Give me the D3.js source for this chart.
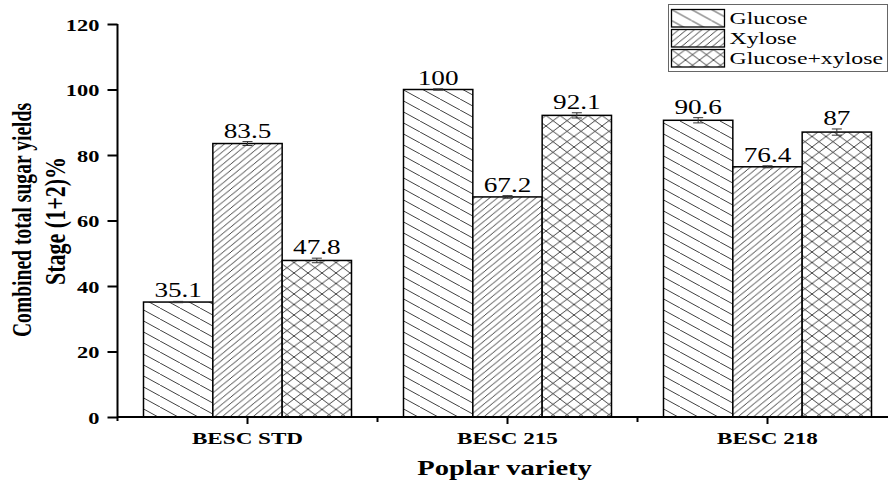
<!DOCTYPE html>
<html>
<head>
<meta charset="utf-8">
<script src="https://cdn.jsdelivr.net/npm/d3@7"></script>
<style>
  html, body { margin: 0; padding: 0; background: #fff; }
  svg { display: block; font-family: "Liberation Serif", "Times New Roman", serif; }
</style>
</head>
<body>
<svg id="chart" width="888" height="484"></svg>
<script>
// Poplar varieties on the x axis
const categories = ["BESC STD", "BESC 215", "BESC 218"];
// Sugar series shown in each group
const seriesNames = ["Glucose", "Xylose", "Glucose+xylose"];
// Combined total sugar yields, Stage (1+2) %
const glucose  = [35.1, 100, 90.6];
const xylose   = [83.5, 67.2, 76.4];
const combined = [47.8, 92.1, 87];
// Standard deviations
const glucoseErr  = [0.2, 0.2, 0.8];
const xyloseErr   = [0.6, 0.4, 0.3];
const combinedErr = [0.7, 0.8, 0.95];
// Y-axis tick values
const yTicks = [0, 20, 40, 60, 80, 100, 120];

const seriesValues = [glucose, xylose, combined];
const seriesErrors = [glucoseErr, xyloseErr, combinedErr];
const patternIds = ["pat-glucose", "pat-xylose", "pat-combined"];

// Horizontal widening applied to all lettering
const SX = 1.36;

const svg = d3.select("#chart");
const plot = { left: 117.5, right: 897.5, top: 24, bottom: 417 };

// ---- hatch patterns ----
const defs = svg.append("defs");
function hatch(id, w, h, lines) {
  const p = defs.append("pattern")
    .attr("id", id).attr("patternUnits", "userSpaceOnUse")
    .attr("width", w).attr("height", h);
  p.append("rect").attr("width", w).attr("height", h).attr("fill", "#fff");
  lines.forEach(([x1, y1, x2, y2]) => {
    p.append("line")
      .attr("x1", x1).attr("y1", y1).attr("x2", x2).attr("y2", y2)
      .attr("stroke", "#2a2a2a").attr("stroke-width", 0.9);
  });
}
// "\" lines
{
  const w = 20, h = 11, k = h / w;
  hatch("pat-glucose", w, h, [[-2, -2 * k, w + 2, h + 2 * k]]);
}
// "/" lines
{
  const w = 7.7, h = 6.3, k = h / w;
  hatch("pat-xylose", w, h, [[-2, h + 2 * k, w + 2, -2 * k]]);
}
// cross hatch
{
  const w = 14, h = 10.5, k = h / w;
  hatch("pat-combined", w, h, [
    [-2, -2 * k, w + 2, h + 2 * k],
    [-2, h + 2 * k, w + 2, -2 * k]
  ]);
}

// ---- scales ----
const x = d3.scaleBand()
  .domain(categories)
  .range([plot.left, plot.right])
  .paddingInner(0.2)
  .paddingOuter(0.1);
const xSub = d3.scaleBand()
  .domain(seriesNames)
  .range([0, x.bandwidth()]);
const y = d3.scaleLinear()
  .domain([0, 120])
  .range([plot.bottom, plot.top]);

// ---- bars ----
const rows = [];
categories.forEach((c, ci) => {
  seriesNames.forEach((s, si) => {
    rows.push({ cat: c, series: s, si, value: seriesValues[si][ci], err: seriesErrors[si][ci] });
  });
});

const barG = svg.append("g");
barG.selectAll("rect")
  .data(rows)
  .join("rect")
  .attr("x", d => x(d.cat) + xSub(d.series))
  .attr("y", d => y(d.value))
  .attr("width", xSub.bandwidth())
  .attr("height", d => y(0) - y(d.value))
  .attr("fill", d => `url(#${patternIds[d.si]})`)
  .attr("stroke", "#000")
  .attr("stroke-width", 1.5);

// error bars
const errG = svg.append("g").attr("stroke", "#333").attr("stroke-width", 1);
rows.forEach(d => {
  const cx = x(d.cat) + xSub(d.series) + xSub.bandwidth() / 2;
  const y1 = y(d.value + d.err), y2 = y(d.value - d.err);
  errG.append("line").attr("x1", cx).attr("x2", cx).attr("y1", y1).attr("y2", y2);
  errG.append("line").attr("x1", cx - 5).attr("x2", cx + 5).attr("y1", y1).attr("y2", y1);
  errG.append("line").attr("x1", cx - 5).attr("x2", cx + 5).attr("y1", y2).attr("y2", y2);
});

// value labels
svg.append("g").selectAll("text")
  .data(rows)
  .join("text")
  .attr("transform", d => {
    const cx = x(d.cat) + xSub(d.series) + xSub.bandwidth() / 2;
    return `translate(${cx},${y(d.value + d.err) - 4}) scale(${SX},1)`;
  })
  .attr("text-anchor", "middle")
  .attr("font-size", 20)
  .attr("fill", "#000")
  .text(d => d3.format("~g")(d.value));

// ---- axes ----
const yAxis = svg.append("g")
  .attr("transform", `translate(${plot.left},0)`)
  .call(d3.axisLeft(y).tickValues(yTicks).tickSize(10).tickSizeOuter(0).tickFormat(d3.format("d")));
yAxis.select(".domain").attr("stroke", "#000").attr("stroke-width", 2)
  .attr("d", `M0,${plot.top}V${plot.bottom + 4}`);
yAxis.selectAll(".tick line").attr("stroke", "#000").attr("stroke-width", 2);
yAxis.selectAll(".tick text")
  .attr("x", null).attr("dy", null).attr("y", 6)
  .attr("transform", `translate(-18,0) scale(${SX},1)`)
  .attr("font-family", "Liberation Serif, serif")
  .attr("font-size", 16.5).attr("font-weight", "bold").attr("fill", "#000");

const xAxis = svg.append("g")
  .attr("transform", `translate(0,${plot.bottom})`)
  .call(d3.axisBottom(x).tickSize(7).tickSizeOuter(0));
xAxis.select(".domain").attr("stroke", "#000").attr("stroke-width", 2)
  .attr("d", `M${plot.left},0H${plot.right}`);
xAxis.selectAll(".tick line").attr("stroke", "#000").attr("stroke-width", 2);
xAxis.selectAll(".tick text")
  .attr("y", null).attr("dy", null)
  .attr("transform", `translate(0,27) scale(${SX},1)`)
  .attr("font-family", "Liberation Serif, serif")
  .attr("font-size", 17).attr("font-weight", "bold").attr("fill", "#000");

// minor ticks between the groups
const minorPos = categories.slice(1).map(c => x(c) - (x.step() - x.bandwidth()) / 2);
xAxis.selectAll(".minor")
  .data(minorPos)
  .join("line")
  .attr("class", "minor")
  .attr("x1", d => d).attr("x2", d => d)
  .attr("y1", 0).attr("y2", 5)
  .attr("stroke", "#000").attr("stroke-width", 2);

// ---- axis titles ----
svg.append("text")
  .attr("transform", `translate(${(plot.left + plot.right) / 2 - 3},475) scale(${SX},1)`)
  .attr("text-anchor", "middle")
  .attr("font-size", 21).attr("font-weight", "bold").attr("fill", "#000")
  .text("Poplar variety");

svg.append("text")
  .attr("transform", `translate(31,220) scale(${SX},1) rotate(-90)`)
  .attr("text-anchor", "middle")
  .attr("font-size", 19.6).attr("font-weight", "bold").attr("fill", "#000")
  .text("Combined total sugar yields");
svg.append("text")
  .attr("transform", `translate(65,221) scale(${SX},1) rotate(-90)`)
  .attr("text-anchor", "middle")
  .attr("font-size", 22).attr("font-weight", "bold").attr("fill", "#000")
  .text("Stage (1+2)%");

// ---- legend ----
const legend = svg.append("g");
legend.append("rect")
  .attr("x", 668.5).attr("y", 4.5).attr("width", 219).attr("height", 67)
  .attr("fill", "#fff").attr("stroke", "#666").attr("stroke-width", 1);
const li = legend.selectAll("g.item")
  .data(seriesNames)
  .join("g")
  .attr("class", "item")
  .attr("transform", (d, i) => `translate(671.5,${9.5 + i * 20})`);
li.append("rect")
  .attr("width", 53).attr("height", 17.5)
  .attr("fill", (d, i) => `url(#${patternIds[i]})`)
  .attr("stroke", "#000").attr("stroke-width", 1.3);
li.append("text")
  .attr("transform", `translate(58,14.5) scale(${SX},1)`)
  .attr("font-size", 17.5).attr("fill", "#000")
  .text(d => d);
</script>
</body>
</html>
